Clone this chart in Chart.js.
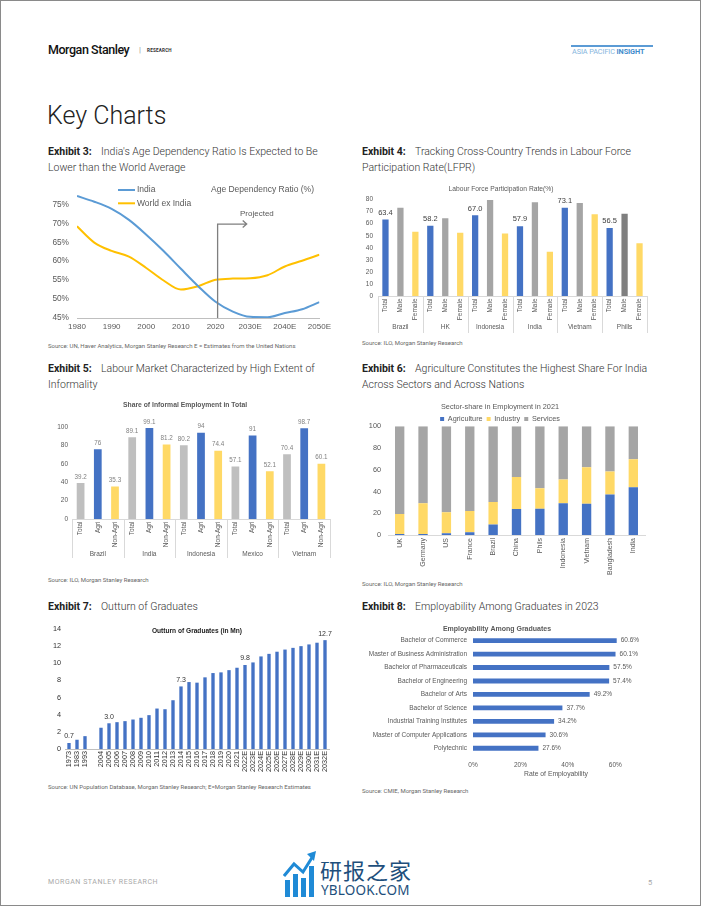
<!DOCTYPE html>
<html lang="en">
<head>
<meta charset="UTF-8" />
<title>Key Charts</title>
<script src="https://cdn.jsdelivr.net/npm/chart.js"></script>
<style>
  html, body { margin: 0; padding: 0; }
  body { width: 702px; height: 907px; position: relative; background: #fff; overflow: hidden;
         font-family: Roboto, "Liberation Sans", sans-serif; color: #333; }
  .frame { position: absolute; left: 0; top: 0; width: 699px; height: 904px; border: 1.5px solid #8a8a8a; }
  .t { position: absolute; white-space: nowrap; }
  .ex { position: absolute; font-size: 10.5px; line-height: 16px; font-weight: 300; color: #333; white-space: nowrap; }
  .ex b { font-weight: 700; display: inline-block; width: 53px; color: #222; }
  .src { position: absolute; font-size: 6px; color: #666; white-space: nowrap; }
  canvas { position: absolute; }
</style>
</head>
<body>
<div class="frame"></div>

<div class="t" style="left:48px;top:42px;font-size:12.5px;font-weight:500;letter-spacing:-0.45px;color:#111">Morgan Stanley</div>
<div class="t" style="left:139px;top:45px;font-size:8px;color:#999">|</div>
<div class="t" style="left:147px;top:47.5px;font-size:4.6px;font-weight:700;letter-spacing:0.2px;color:#333">RESEARCH</div>
<div style="position:absolute;left:571px;top:45px;width:82px;height:1.5px;background:#5b9bd5"></div>
<div class="t" style="left:572px;top:47px;font-size:7.3px;letter-spacing:-0.1px;color:#86b5dd">ASIA PACIFIC <b style="color:#3f8bcc">INSIGHT</b></div>

<div class="t" style="left:47px;top:101px;font-size:25px;font-weight:300;color:#222">Key Charts</div>

<div class="ex" style="left:48px;top:144px"><b>Exhibit 3:</b>India's Age Dependency Ratio Is Expected to Be<br>Lower than the World Average</div>
<div class="ex" style="left:362px;top:144px"><b>Exhibit 4:</b>Tracking Cross-Country Trends in Labour Force<br>Participation Rate(LFPR)</div>
<div class="ex" style="left:48px;top:361px"><b>Exhibit 5:</b>Labour Market Characterized by High Extent of<br>Informality</div>
<div class="ex" style="left:362px;top:361px"><b>Exhibit 6:</b>Agriculture Constitutes the Highest Share For India<br>Across Sectors and Across Nations</div>
<div class="ex" style="left:48px;top:599px"><b>Exhibit 7:</b>Outturn of Graduates</div>
<div class="ex" style="left:362px;top:599px"><b>Exhibit 8:</b>Employability Among Graduates in 2023</div>

<div class="src" style="left:48px;top:342px">Source: UN, Haver Analytics, Morgan Stanley Research E = Estimates from the United Nations</div>
<div class="src" style="left:362px;top:339px">Source: ILO, Morgan Stanley Research</div>
<div class="src" style="left:48px;top:576px">Source: ILO, Morgan Stanley Research</div>
<div class="src" style="left:362px;top:580px">Source: ILO, Morgan Stanley Research</div>
<div class="src" style="left:48px;top:783px">Source: UN Population Database, Morgan Stanley Research; E=Morgan Stanley Research Estimates</div>
<div class="src" style="left:362px;top:787px">Source: CMIE, Morgan Stanley Research</div>

<canvas id="c3" width="295" height="157" style="left:40px;top:180px;width:295px;height:157px"></canvas>
<canvas id="c4" width="300" height="160" style="left:355px;top:180px;width:300px;height:160px"></canvas>
<canvas id="c5" width="300" height="175" style="left:40px;top:395px;width:300px;height:175px"></canvas>
<canvas id="c6" width="300" height="182" style="left:355px;top:395px;width:300px;height:182px"></canvas>
<canvas id="c7" width="300" height="158" style="left:40px;top:620px;width:300px;height:158px"></canvas>
<canvas id="c8" width="300" height="158" style="left:355px;top:620px;width:300px;height:158px"></canvas>

<div class="t" style="left:48px;top:878px;font-size:7px;letter-spacing:0.55px;color:#a8a8a8">MORGAN STANLEY RESEARCH</div>
<div class="t" style="left:648px;top:878px;font-size:7.5px;color:#a8a8a8">5</div>

<svg style="position:absolute;left:283px;top:850px" width="34" height="50" viewBox="0 0 34 50">
  <rect x="2" y="30" width="5" height="17" fill="#1f8ad6"/>
  <rect x="10" y="24" width="5" height="23" fill="#1f8ad6"/>
  <rect x="18" y="28" width="5" height="19" fill="#1f8ad6"/>
  <rect x="26" y="16" width="5" height="31" fill="#1f8ad6"/>
  <polyline points="1,26 11,14 20,22 30,6" fill="none" stroke="#1f8ad6" stroke-width="3"/>
  <polygon points="24,4 33,1 31,11" fill="#1f8ad6"/>
</svg>
<div class="t" style="left:320px;top:853px;font-size:22px;font-family:'Noto Sans CJK SC';color:#1e4f7c;letter-spacing:1px">研报之家</div>
<div class="t" style="left:321px;top:881px;font-size:13.5px;font-family:'Noto Sans';color:#1e4f7c;letter-spacing:0.2px">YBLOOK.COM</div>

<script>
// ---- Exhibit 3: age dependency ratio (%)
const depYears = [1980, 1985, 1990, 1995, 2000, 2005, 2010, 2015, 2020, 2025, 2030, 2035, 2040, 2045, 2050];
const depIndia = [77.2, 75.7, 73.8, 70.9, 67.0, 62.7, 58.0, 53.4, 49.3, 46.7, 45.3, 45.2, 46.3, 47.3, 49.2];
const depWorld = [69.2, 64.9, 62.7, 61.2, 58.2, 54.9, 52.5, 53.4, 55.1, 55.4, 55.5, 56.3, 58.6, 60.1, 61.7];
const depProjectedFrom = 2020.6;

// ---- Exhibit 4: LFPR
const lfprCountries = ["Brazil", "HK", "Indonesia", "India", "Vietnam", "Phills"];
const lfprSeries = ["Total", "Male", "Female"];
const lfprTotal = [63.4, 58.2, 67.0, 57.9, 73.1, 56.5];
const lfprMale = [73.2, 64.5, 79.6, 77.8, 77.1, 68.3];
const lfprFemale = [53.3, 52.5, 51.9, 36.7, 67.9, 43.8];

// ---- Exhibit 5: informal employment share
const infCountries = ["Brazil", "India", "Indonesia", "Mexico", "Vietnam"];
const infSeries = ["Total", "Agri", "Non-Agri"];
const infTotal = [39.2, 89.1, 80.2, 57.1, 70.4];
const infAgri = [76, 99.1, 94, 91, 98.7];
const infNonAgri = [35.3, 81.2, 74.4, 52.1, 60.1];

// ---- Exhibit 6: sector share 2021
const secCountries = ["UK", "Germany", "US", "France", "Brazil", "China", "Phils", "Indonesia", "Vietnam", "Bangladesh", "India"];
const secAgri = [0.9, 0.9, 1.5, 2.5, 9.6, 23.8, 24.1, 29.1, 28.8, 37.2, 44.0];
const secIndustry = [18.3, 28.2, 19.5, 19.5, 20.7, 29.5, 18.9, 21.9, 33.4, 21.3, 25.7];
const secServices = [80.8, 70.9, 79.0, 78.0, 69.7, 46.7, 57.0, 49.0, 37.8, 41.5, 30.3];

// ---- Exhibit 7: graduates (mn), "" = gap in the axis
const gradYears = ["1973", "1983", "1993", "", "2004", "2005", "2006", "2007", "2008", "2009", "2010", "2011", "2012", "2013",
  "2014", "2015", "2016", "2017", "2018", "2019", "2020", "2021", "2022E", "2023E", "2024E", "2025E", "2026E",
  "2027E", "2028E", "2029E", "2030E", "2031E", "2032E"];
const gradValues = [0.7, 1.08, 1.5, null, 2.48, 3.0, 3.13, 3.25, 3.44, 3.64, 3.95, 4.72, 4.64, 5.69,
  7.3, 7.81, 7.74, 8.36, 8.86, 8.94, 9.2, 9.48, 9.8, 10.1, 10.8, 11.1, 11.35,
  11.6, 11.8, 12.0, 12.2, 12.4, 12.7];
const gradLabelled = ["1973", "2005", "2014", "2022E", "2032E"];

// ---- Exhibit 8: employability
const empCourses = ["Bachelor of Commerce", "Master of Business Administration", "Bachelor of Pharmaceuticals",
  "Bachelor of Engineering", "Bachelor of Arts", "Bachelor of Science", "Industrial Training Institutes",
  "Master of Computer Applications", "Polytechnic"];
const empRates = [60.6, 60.1, 57.5, 57.4, 49.2, 37.7, 34.2, 30.6, 27.6];

const BLUE = "#4472C4", GOLD = "#FFD966", GREY = "#A5A5A5", TXT = "#595959";
const F = "'Liberation Sans', Arial, sans-serif";
Chart.defaults.font.family = F;
Chart.defaults.color = TXT;
Chart.defaults.animation = false;
Chart.defaults.responsive = false;
Chart.defaults.plugins.legend.display = false;
Chart.defaults.plugins.tooltip.enabled = false;

const noGrid = { display: false, drawTicks: false };
function fixW(w) { return (s) => { s.width = w; }; }
function fixH(h) { return (s) => { s.height = h; }; }

function makeValueLabels(o) {
  return {
    id: "valueLabels",
    afterDatasetsDraw(chart) {
      const ctx = chart.ctx;
      ctx.save();
      ctx.font = o.font;
      ctx.fillStyle = o.color;
      chart.data.datasets.forEach((ds, di) => {
        if (o.datasets && !o.datasets.includes(di)) return;
        chart.getDatasetMeta(di).data.forEach((bar, i) => {
          const v = ds.data[i];
          if (v == null) return;
          if (o.only && !o.only(i)) return;
          const txt = o.format ? o.format(v) : String(v);
          if (o.horizontal) {
            ctx.textAlign = "left"; ctx.textBaseline = "middle";
            ctx.fillText(txt, bar.x + 4, bar.y);
          } else {
            ctx.textAlign = "center"; ctx.textBaseline = "bottom";
            ctx.fillText(txt, bar.x, bar.y - (o.gap || 3));
          }
        });
      });
      ctx.restore();
    }
  };
}

function makeGroupAxis(groups, subs, o) {
  return {
    id: "groupAxis",
    afterDraw(chart) {
      const x = chart.scales.x, a = chart.chartArea, ctx = chart.ctx;
      const w = x.getPixelForValue(1) - x.getPixelForValue(0);
      ctx.save();
      ctx.font = o.font;
      ctx.fillStyle = TXT;
      groups.forEach((g, i) => {
        const c = x.getPixelForValue(i);
        subs.forEach((s, j) => {
          const sx = c + (j - (subs.length - 1) / 2) * w / subs.length;
          ctx.save();
          ctx.translate(sx, a.bottom + o.subGap);
          ctx.rotate(-Math.PI / 2);
          ctx.textAlign = "right"; ctx.textBaseline = "middle";
          ctx.fillText(s, 0, 0);
          ctx.restore();
        });
        ctx.textAlign = "center"; ctx.textBaseline = "middle";
        ctx.fillText(g, c, a.bottom + o.groupY);
      });
      ctx.strokeStyle = "#D9D9D9";
      ctx.lineWidth = 1;
      for (let i = 0; i <= groups.length; i++) {
        const lx = Math.round(x.getPixelForValue(i) - w / 2) + 0.5;
        ctx.beginPath(); ctx.moveTo(lx, a.bottom); ctx.lineTo(lx, a.bottom + o.lineLen); ctx.stroke();
      }
      ctx.restore();
    }
  };
}

function makeInnerTitle(text, font, dy) {
  return {
    id: "innerTitle",
    afterDraw(chart) {
      const a = chart.chartArea, ctx = chart.ctx;
      ctx.save();
      ctx.font = font; ctx.fillStyle = "#222";
      ctx.textAlign = "center"; ctx.textBaseline = "middle";
      ctx.fillText(text, (a.left + a.right) / 2, a.top + dy);
      ctx.restore();
    }
  };
}

// keeps the legend box at a set height so the plot starts where it should
function legendHeight(h) {
  return {
    id: "legendHeight",
    beforeLayout(chart) {
      const lg = chart.legend;
      if (!lg || lg._fixedFit) return;
      const fit = lg.fit;
      lg.fit = function () { fit.call(this); this.height = h; };
      lg._fixedFit = true;
    }
  };
}

// ---------- Exhibit 3
const depExtras = {
  id: "depExtras",
  afterDraw(chart) {
    const ctx = chart.ctx, x = chart.scales.x, y = chart.scales.y;
    ctx.save();
    // legend
    ctx.font = "8.5px " + F;
    ctx.textBaseline = "middle"; ctx.textAlign = "left";
    chart.data.datasets.forEach((ds, i) => {
      const ly = 10 + i * 13.3;
      ctx.strokeStyle = ds.borderColor; ctx.lineWidth = 2;
      ctx.beginPath(); ctx.moveTo(78, ly); ctx.lineTo(95, ly); ctx.stroke();
      ctx.fillStyle = TXT;
      ctx.fillText(ds.label, 97, ly);
    });
    ctx.fillText("Age Dependency Ratio (%)", 171, 9.5);
    // projected marker
    const px = x.getPixelForValue(depProjectedFrom);
    const top = y.getPixelForValue(69.8);
    const ax = x.getPixelForValue(2029);
    ctx.strokeStyle = "#7f7f7f"; ctx.lineWidth = 1.3;
    ctx.beginPath();
    ctx.moveTo(px, y.getPixelForValue(45)); ctx.lineTo(px, top); ctx.lineTo(ax, top);
    ctx.moveTo(ax - 4, top - 3.5); ctx.lineTo(ax, top); ctx.lineTo(ax - 4, top + 3.5);
    ctx.stroke();
    ctx.fillStyle = TXT; ctx.font = "8px " + F;
    ctx.fillText("Projected", 200, 33.5);
    ctx.restore();
  }
};

new Chart(document.getElementById("c3"), {
  type: "line",
  data: {
    datasets: [
      { label: "India", data: depYears.map((yr, i) => ({ x: yr, y: depIndia[i] })), borderColor: "#5B9BD5", borderWidth: 2, pointRadius: 0, cubicInterpolationMode: "monotone" },
      { label: "World ex India", data: depYears.map((yr, i) => ({ x: yr, y: depWorld[i] })), borderColor: "#FFC000", borderWidth: 2, pointRadius: 0, cubicInterpolationMode: "monotone" }
    ]
  },
  options: {
    layout: { padding: { top: 11, right: 12, left: 0, bottom: 0 } },
    scales: {
      x: {
        type: "linear", min: 1980, max: 2050,
        grid: noGrid,
        border: { color: "#BFBFBF" },
        ticks: { stepSize: 10, padding: 4, font: { size: 8 }, callback: (v) => v >= 2030 ? v + "E" : String(v) },
        afterFit: fixH(19)
      },
      y: {
        min: 45, max: 78,
        grid: noGrid,
        border: { display: false },
        ticks: { stepSize: 5, padding: 8, font: { size: 8.3 }, callback: (v) => v + "%" },
        afterBuildTicks: (s) => { s.ticks = s.ticks.filter((t) => t.value % 5 === 0); },
        afterFit: fixW(37)
      }
    }
  },
  plugins: [depExtras]
});

// ---------- Exhibit 4
new Chart(document.getElementById("c4"), {
  type: "bar",
  data: {
    labels: lfprCountries,
    datasets: [
      { label: lfprSeries[0], data: lfprTotal, backgroundColor: BLUE },
      { label: lfprSeries[1], data: lfprMale, backgroundColor: lfprCountries.map((c, i) => i === 5 ? "#7F7F7F" : GREY) },
      { label: lfprSeries[2], data: lfprFemale, backgroundColor: GOLD }
    ]
  },
  options: {
    layout: { padding: { top: 0, right: 8, left: 0, bottom: 0 } },
    datasets: { bar: { categoryPercentage: 1, barPercentage: 0.42 } },
    plugins: {
      title: { display: true, text: "Labour Force Participation Rate(%)", font: { size: 6.7, weight: "normal" }, color: TXT, padding: { top: 5.5, bottom: 6 } }
    },
    scales: {
      x: { grid: noGrid, border: { color: "#D9D9D9" }, ticks: { display: false }, afterFit: fixH(44) },
      y: {
        min: 0, max: 80, grid: noGrid, border: { display: false },
        ticks: { stepSize: 10, padding: 5, font: { size: 6.5 } }, afterFit: fixW(23)
      }
    }
  },
  plugins: [
    makeValueLabels({ font: "7.5px " + F, color: "#404040", datasets: [0], format: (v) => v.toFixed(1) }),
    makeGroupAxis(lfprCountries, lfprSeries, { font: "6.5px " + F, subGap: 2.5, groupY: 31, lineLen: 37 })
  ]
});

// ---------- Exhibit 5
new Chart(document.getElementById("c5"), {
  type: "bar",
  data: {
    labels: infCountries,
    datasets: [
      { label: infSeries[0], data: infTotal, backgroundColor: "#BFBFBF" },
      { label: infSeries[1], data: infAgri, backgroundColor: BLUE },
      { label: infSeries[2], data: infNonAgri, backgroundColor: GOLD }
    ]
  },
  options: {
    layout: { padding: { top: 0, right: 10, left: 0, bottom: 0 } },
    datasets: { bar: { categoryPercentage: 1, barPercentage: 0.45 } },
    plugins: {
      title: { display: true, text: "Share of Informal Employment in Total", font: { size: 6.8, weight: "bold" }, color: TXT, padding: { top: 6.5, bottom: 17.5 } }
    },
    scales: {
      x: { grid: noGrid, border: { color: "#D9D9D9" }, ticks: { display: false }, afterFit: fixH(51) },
      y: {
        min: 0, max: 100, grid: noGrid, border: { display: false },
        ticks: { stepSize: 10, padding: 4, font: { size: 6.5 } }, afterFit: fixW(32)
      }
    }
  },
  plugins: [
    makeValueLabels({ font: "6.3px " + F, color: "#808080" }),
    makeGroupAxis(infCountries, infSeries, { font: "6.5px " + F, subGap: 2.5, groupY: 35, lineLen: 39 })
  ]
});

// ---------- Exhibit 6
new Chart(document.getElementById("c6"), {
  type: "bar",
  data: {
    labels: secCountries,
    datasets: [
      { label: "Agriculture", data: secAgri, backgroundColor: BLUE },
      { label: "Industry", data: secIndustry, backgroundColor: GOLD },
      { label: "Services", data: secServices, backgroundColor: GREY }
    ]
  },
  options: {
    layout: { padding: { top: 0, right: 10, left: 0, bottom: 0 } },
    datasets: { bar: { categoryPercentage: 1, barPercentage: 0.4 } },
    plugins: {
      title: { display: true, text: "Sector-share in Employment in 2021", font: { size: 7.3, weight: "normal" }, color: TXT, padding: { top: 7.5, bottom: 0 } },
      legend: {
        display: true,
        labels: { boxWidth: 4, boxHeight: 4, padding: 4, font: { size: 7.3 }, color: TXT }
      }
    },
    scales: {
      x: {
        stacked: true, grid: noGrid, border: { color: "#D9D9D9" },
        ticks: { autoSkip: false, maxRotation: 90, minRotation: 90, padding: 3, font: { size: 7 } },
        afterFit: fixH(42)
      },
      y: {
        stacked: true, min: 0, max: 100, grid: noGrid, border: { display: false },
        ticks: { stepSize: 10, padding: 7, font: { size: 7.3 } }, afterFit: fixW(33)
      }
    }
  },
  plugins: [legendHeight(15)]
});

// ---------- Exhibit 7
new Chart(document.getElementById("c7"), {
  type: "bar",
  data: {
    labels: gradYears,
    datasets: [{ label: "Outturn of Graduates (in Mn)", data: gradValues, backgroundColor: BLUE }]
  },
  options: {
    layout: { padding: { top: 9, right: 11, left: 0, bottom: 0 } },
    datasets: { bar: { categoryPercentage: 1, barPercentage: 0.42 } },
    scales: {
      x: {
        grid: noGrid, border: { color: "#BFBFBF" },
        ticks: { autoSkip: false, maxRotation: 90, minRotation: 90, padding: 2, font: { size: 7.3 }, color: "#333" },
        afterFit: fixH(29)
      },
      y: {
        min: 0, max: 14, grid: noGrid, border: { display: false },
        ticks: { stepSize: 2, padding: 4, font: { size: 7.3 }, color: "#333" }, afterFit: fixW(25)
      }
    }
  },
  plugins: [
    makeValueLabels({ font: "7px " + F, color: "#333", only: (i) => gradLabelled.includes(gradYears[i]), format: (v) => v.toFixed(1) }),
    makeInnerTitle("Outturn of Graduates (in Mn)", "bold 6.6px " + F, 2)
  ]
});

// ---------- Exhibit 8
new Chart(document.getElementById("c8"), {
  type: "bar",
  data: {
    labels: empCourses,
    datasets: [{ label: "Rate of Employability", data: empRates, backgroundColor: BLUE }]
  },
  options: {
    indexAxis: "y",
    layout: { padding: { top: 0, right: 16, left: 0, bottom: 0 } },
    datasets: { bar: { categoryPercentage: 1, barPercentage: 0.36 } },
    plugins: {
      title: { display: true, text: "Employability Among Graduates", font: { size: 7, weight: "bold" }, color: TXT, padding: { top: 4.5, bottom: 1 } }
    },
    scales: {
      x: {
        min: 0, max: 70, grid: noGrid, border: { display: false },
        ticks: { stepSize: 20, padding: 6, font: { size: 6.5 }, callback: (v) => v + "%" },
        afterBuildTicks: (s) => { s.ticks = s.ticks.filter((t) => t.value % 20 === 0); },
        title: { display: true, text: "Rate of Employability", font: { size: 6.8 }, color: TXT, padding: { top: 2, bottom: 0 } },
        afterFit: fixH(23)
      },
      y: {
        grid: noGrid, border: { display: false },
        ticks: { autoSkip: false, padding: 6, font: { size: 6.5 } }, afterFit: fixW(118)
      }
    }
  },
  plugins: [makeValueLabels({ font: "6.5px " + F, color: TXT, horizontal: true, format: (v) => v.toFixed(1) + "%" })]
});
</script>
</body>
</html>
